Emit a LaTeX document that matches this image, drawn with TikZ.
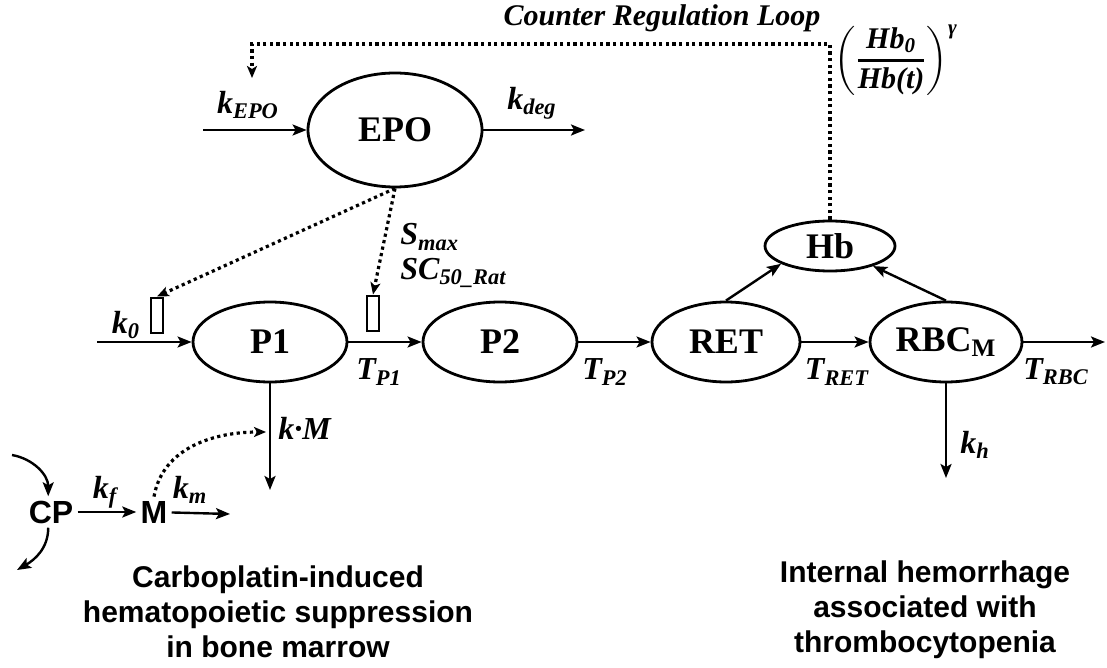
\documentclass[tikz,border=0pt]{standalone}
\usepackage{fontspec}
\usepackage{amsmath}
\setmainfont{Liberation Serif}
\setsansfont{Liberation Sans}
\usetikzlibrary{shapes.geometric, arrows.meta, positioning, calc}

\newcommand{\rate}[2]{$\text{\bfseries\itshape #1}_{\text{\bfseries\itshape #2}}$}

\begin{document}
\begin{tikzpicture}[x=0.5pt, y=0.5pt,
    cell/.style={ellipse, draw, line width=1.4pt, minimum width=#1, minimum height=40pt, inner sep=0pt, font=\fontsize{18}{20}\selectfont\bfseries},
    gate/.style={rectangle, draw, line width=1pt, minimum width=6pt, minimum height=17.5pt, inner sep=0pt},
    flow/.style={-{Stealth[length=7pt, width=5.5pt, inset=1.5pt]}, line width=1.2pt},
    dotflow/.style={-{Stealth[length=6pt, width=5pt, inset=1.5pt]}, line width=1.6pt, dash pattern=on 1.6pt off 1.7pt},
    ratelbl/.style={font=\fontsize{16}{18}\selectfont, inner sep=1pt},
    drug/.style={font=\sffamily\bfseries\fontsize{16}{18}\selectfont, inner sep=2pt},
    caption/.style={align=center, font=\sffamily\bfseries\fontsize{15}{17.5}\selectfont}
]
\useasboundingbox (0,0) rectangle (1107,-668);

% EPO turnover
\node[cell=87pt, minimum height=57pt] (epo) at (395,-130) {EPO};
\coordinate (epoin) at (203,-130);
\coordinate (epoout) at (585,-130);
\draw[flow] (epoin) -- (epo);
\draw[flow] (epo) -- (epoout);
\node[ratelbl] (kepo) at (248,-105) {\rate{k}{EPO}};
\node[ratelbl] (kdeg) at (532,-103) {\rate{k}{deg}};

% Precursor and red cell chain
\node[cell=77pt] (p1) at (270,-342) {P1};
\node[cell=77pt] (p2) at (500,-342) {P2};
\node[cell=74pt] (ret) at (726,-342) {RET};
\node[cell=76pt] (rbc) at (946,-342) {RBC$_{\text{\bfseries M}}$};
\node[cell=65pt, minimum height=25pt] (hb) at (830,-246) {Hb};

\coordinate (k0in) at (97,-342);
\coordinate (rbcout) at (1105,-342);
\draw[flow] (k0in) -- (p1);
\draw[flow] (p1) -- (p2);
\draw[flow] (p2) -- (ret);
\draw[flow] (ret) -- (rbc);
\draw[flow] (rbc) -- (rbcout);
\draw[flow] (ret.north) -- (hb.200);
\draw[flow] (rbc.north) -- (hb.335);

\node[ratelbl] (k0) at (126,-325) {\rate{k}{0}};
\node[ratelbl] (tp1) at (379,-372) {\rate{T}{P1}};
\node[ratelbl] (tp2) at (605,-372) {\rate{T}{P2}};
\node[ratelbl] (tret) at (837,-372) {\rate{T}{RET}};
\node[ratelbl] (trbc) at (1056,-372) {\rate{T}{RBC}};

% EPO stimulation of production and transit
\node[gate] (g1) at (157,-315) {};
\node[gate] (g2) at (373,-313) {};
\draw[dotflow] (epo.south) -- (g1.north);
\draw[dotflow] (epo.south) -- (g2.north);
\node[ratelbl, anchor=west] (smax) at (398,-237) {\rate{S}{max}};
\node[ratelbl, anchor=west] (sc50) at (398,-273) {\rate{SC}{50\_Rat}};

% Losses
\coordinate (p1out) at (270,-490);
\coordinate (hout) at (946,-478);
\draw[flow] (p1) -- (p1out);
\draw[flow] (rbc) -- (hout);
\node[ratelbl] (kM) at (305,-428) {\textbf{\textit{k·M}}};
\node[ratelbl] (kh) at (975,-445) {\rate{k}{h}};

% Counter regulation loop
\coordinate (loopl) at (252,-44);
\coordinate (loopend) at (252,-78);
\draw[dotflow] (hb.north) |- (loopl) -- (loopend);
\node[ratelbl, font=\fontsize{15}{17}\selectfont] (loop) at (662,-18) {\textbf{\textit{Counter Regulation Loop}}};
\node[ratelbl, font=\fontsize{15}{17}\selectfont] (fb) at (896,-60) {$\left(\genfrac{}{}{1.1pt}{0}{\text{\bfseries\itshape Hb}_{\text{\bfseries\itshape 0}}}{\text{\bfseries\itshape Hb(t)}}\right)^{\text{\bfseries\itshape γ}}$};

% Carboplatin
\node[drug] (cp) at (51,-512) {CP};
\node[drug] (m) at (154,-512) {M};
\coordinate (mout) at (230,-514);
\coordinate (cpin) at (12,-455);
\coordinate (cpout) at (17,-570);
\coordinate (mhit) at (266,-432);
\draw[flow] (cp) -- (m);
\draw[flow] (m) -- (mout);
\draw[flow] (cpin) to[out=-10, in=90] (cp.100);
\draw[flow] (cp.260) to[out=-90, in=30] (cpout);
\draw[dotflow] (m.north) to[out=80, in=180] (mhit);
\node[ratelbl] (kf) at (105,-492) {\rate{k}{f}};
\node[ratelbl] (km) at (190,-490) {\rate{k}{m}};

\node[caption] (capl) at (278,-612) {Carboplatin-induced\\hematopoietic suppression\\in bone marrow};
\node[caption] (capr) at (925,-610) {Internal hemorrhage\\associated with\\thrombocytopenia};
\end{tikzpicture}
\end{document}
